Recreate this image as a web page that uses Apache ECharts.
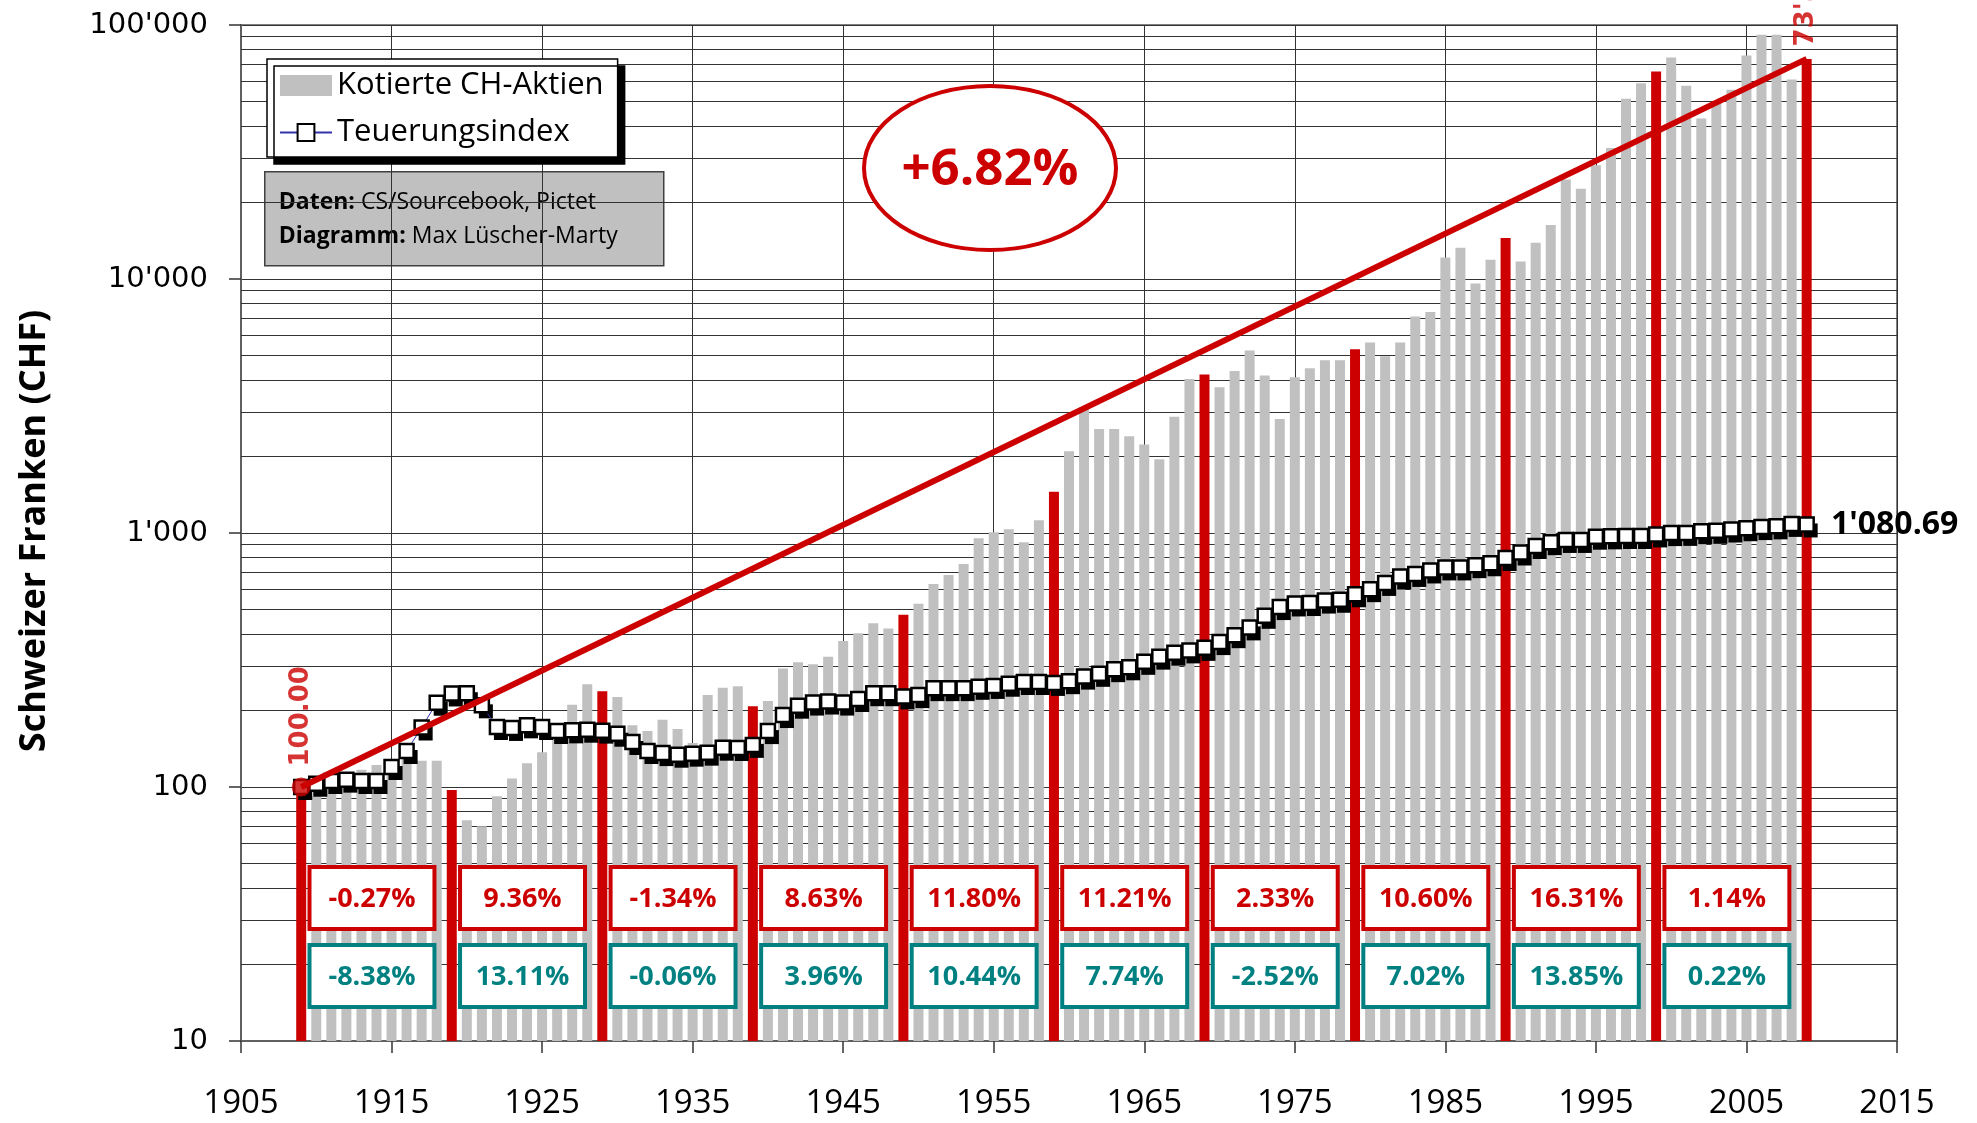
<!DOCTYPE html>
<html><head><meta charset="utf-8">
<script src="https://cdn.jsdelivr.net/npm/echarts@6/dist/echarts.min.js"></script>
<style>html,body{margin:0;padding:0;background:#fff}#c{width:1977px;height:1123px}</style>
</head><body><div id="c"></div>
<script>
const years = [1909,1910,1911,1912,1913,1914,1915,1916,1917,1918,
1919,1920,1921,1922,1923,1924,1925,1926,1927,1928,
1929,1930,1931,1932,1933,1934,1935,1936,1937,1938,
1939,1940,1941,1942,1943,1944,1945,1946,1947,1948,
1949,1950,1951,1952,1953,1954,1955,1956,1957,1958,
1959,1960,1961,1962,1963,1964,1965,1966,1967,1968,
1969,1970,1971,1972,1973,1974,1975,1976,1977,1978,
1979,1980,1981,1982,1983,1984,1985,1986,1987,1988,
1989,1990,1991,1992,1993,1994,1995,1996,1997,1998,
1999,2000,2001,2002,2003,2004,2005,2006,2007,2008,2009];
const stocks = [100,92,97,105,117,122,128,140,127,127,
97.3,74,70,92,108,124,137,160,211,254,
238.2,226,175,166,184,169,149,230,246,249,
208.1,218,293,310,304,326,376,403,441,421,
476.2,526,630,684,755,953,1006,1034,919,1123,
1453,2100,3117,2565,2565,2405,2233,1951,2870,4040,
4205,3745,4340,5230,4170,2810,4100,4450,4790,4790,
5295,5620,4970,5620,7120,7420,12150,13260,9600,11900,
14502,11710,13890,16320,24660,22680,28040,32800,51300,58980,
65660,74500,57600,42800,49600,55600,75900,91500,91500,61000,73540];
const inflation = [100,103,105.6,106.9,105.6,105.6,119.9,138.6,171.5,214.7,
233.5,234,209.7,172.3,170.8,174.9,172.3,166.1,167.1,168.1,
166.7,162.1,150.4,138.6,136,134,135.3,136.5,142.8,142.4,
146.5,166,192,209,215,217,215,222,234,234,
227.3,230,245,245,245,248,250,255,259,259,
256.9,261,272,279,291,296,311,326,338,345,
353,372,396,425,472,511,528,530,542,546,
573.8,601,636,674,690,712,732,732,747,760,
797.3,838,889,920,939,939,967,970,973,973,
987.1,999,1001,1017,1020,1032,1044,1055,1062,1086,1080.69];
const decadeYears = [1909,1919,1929,1939,1949,1959,1969,1979,1989,1999,2009];
const decadeStarts = [1909,1919,1929,1939,1949,1959,1969,1979,1989,1999];
const nominalReturns = [-0.27,9.36,-1.34,8.63,11.80,11.21,2.33,10.60,16.31,1.14];
const realReturns = [-8.38,13.11,-0.06,3.96,10.44,7.74,-2.52,7.02,13.85,0.22];
const trendRate = 6.82;
const xTicks = {min:1905, max:2015, interval:10};
const yRange = {min:10, max:100000};

const RED = '#cc0000', GRAY = '#c0c0c0', TEAL = '#008080';
function fmt(v, dec){
  let s = Number(v).toFixed(dec);
  let parts = s.split('.');
  let i = parts[0].replace(/\B(?=(\d{3})+(?!\d))/g, "'");
  return parts[1] ? i + '.' + parts[1] : i;
}
const minorGrid = [];
[10,100,1000,10000].forEach(d => { for (let k=2;k<=9;k++) minorGrid.push(k*d); });

const barData = years.map((y,i) => decadeYears.indexOf(y) >= 0
  ? {value:[y, stocks[i]], itemStyle:{color:RED}} : [y, stocks[i]]);
const inflData = years.map((y,i) => [y, inflation[i]]);
const lastIdx = years.length - 1;
inflData[lastIdx] = {value:[years[lastIdx], inflation[lastIdx]], label:{show:true}};
const boxData = decadeStarts.map((y,i) => [y, y, nominalReturns[i], realReturns[i]]);

const chart = echarts.init(document.getElementById('c'), null, {renderer:'canvas'});
chart.setOption({
  animation:false,
  backgroundColor:'#fff',
  grid:{left:241, right:80, top:25, bottom:82, show:true, borderColor:'#808080', borderWidth:2},
  xAxis:{type:'value', min:xTicks.min, max:xTicks.max, interval:xTicks.interval,
    axisLine:{show:true, lineStyle:{color:'#606060', width:2}},
    axisTick:{show:true, length:12, lineStyle:{color:'#333', width:1.5}},
    axisLabel:{margin:46, color:'#000', fontFamily:'Open Sans', fontSize:33, formatter:v=>String(v)},
    splitLine:{show:true, lineStyle:{color:'#333', width:1}}},
  yAxis:{type:'log', logBase:10, min:yRange.min, max:yRange.max,
    axisLine:{show:true, lineStyle:{color:'#606060', width:2}},
    axisTick:{show:true, length:12, lineStyle:{color:'#333', width:1.5}},
    axisLabel:{margin:33, color:'#000', fontFamily:'DejaVu Sans', fontSize:29, formatter:v=>fmt(Math.round(v),0)},
    splitLine:{show:true, lineStyle:{color:'#333', width:1}}},
  legend:{data:[{name:'Kotierte CH-Aktien', icon:'rect'},{name:'Teuerungsindex'}],
    orient:'vertical', left:267, top:59, padding:[11,14,9,12], itemGap:16, itemWidth:52, itemHeight:21,
    textStyle:{fontFamily:'Open Sans', fontSize:31, color:'#000'},
    backgroundColor:'#fff', borderColor:'#000', borderWidth:1.5,
    shadowColor:'#000', shadowOffsetX:7, shadowOffsetY:7, shadowBlur:0.01},
  graphic:[
    {type:'group', left:264, top:171, z:50, children:[
      {type:'rect', shape:{x:0,y:0,width:399,height:94}, style:{fill:GRAY, stroke:'#404040', lineWidth:1.5}},
      {type:'text', x:14, y:14, style:{text:'{b|Daten:} CS/Sourcebook, Pictet\n{b|Diagramm:} Max Lüscher-Marty',
        fill:'#000', font:'23px "Open Sans"', lineHeight:34,
        rich:{b:{fontWeight:'bold', fontFamily:'Open Sans', fontSize:23, fill:'#000', lineHeight:34}}}}
    ]},
    {type:'ellipse', z:50, shape:{cx:990, cy:168, rx:126, ry:82}, style:{fill:'#fff', stroke:RED, lineWidth:4}},
    {type:'text', z:51, x:990, y:170, style:{text:'+' + trendRate.toFixed(2) + '%', fill:RED,
      font:'bold 51px "Open Sans"', align:'center', verticalAlign:'middle', textAlign:'center', textVerticalAlign:'middle'}},
    {type:'text', z:51, x:35, y:531, rotation:Math.PI/2, style:{text:'Schweizer Franken (CHF)', fill:'#000',
      font:'bold 36px "Open Sans"', align:'center', verticalAlign:'middle', textAlign:'center', textVerticalAlign:'middle'}}
  ],
  series:[
    {type:'bar', name:'Kotierte CH-Aktien', data:barData, barWidth:10, z:2, clip:true,
      itemStyle:{color:GRAY}, silent:true,
      markLine:{silent:true, z:1, symbol:'none', label:{show:false},
        lineStyle:{color:'#333', width:1, type:'solid'},
        data:minorGrid.map(v=>({yAxis:v}))}},
    {type:'line', name:'shadow', data:inflation.map((v,i)=>[years[i], v]), symbol:'rect', symbolSize:14,
      symbolOffset:[4,6], showAllSymbol:true, itemStyle:{color:'#000'}, lineStyle:{width:0, opacity:0}, z:3, silent:true},
    {type:'line', name:'Teuerungsindex', data:inflData, symbol:'rect', symbolSize:14, showAllSymbol:true,
      itemStyle:{color:'#fff', borderColor:'#000', borderWidth:2.5},
      lineStyle:{color:'#3333aa', width:1}, z:4, silent:true,
      label:{show:false, position:'right', distance:16, formatter:p=>fmt(p.value[1],2),
        fontFamily:'Open Sans', fontWeight:'bold', fontSize:32, color:'#000'}},
    {type:'custom', name:'boxes', data:boxData, encode:{x:0, y:1}, z:6, silent:true,
      renderItem:function(params, api){
        const y0 = api.value(0);
        const xl = api.coord([y0 + 0.55, 100])[0];
        const xr = api.coord([y0 + 8.85, 100])[0];
        const bottom = params.coordSys.y + params.coordSys.height;
        const nom = api.value(2), real = api.value(3);
        const t1 = bottom - 174, t2 = bottom - 96, h = 62;
        return {type:'group', children:[
          {type:'rect', shape:{x:xl, y:t1, width:xr-xl, height:h}, style:{fill:'#fff', stroke:RED, lineWidth:4}},
          {type:'text', style:{x:(xl+xr)/2, y:t1+h/2+1, text:nom.toFixed(2)+'%', fill:RED,
            font:'bold 27px "Open Sans"', align:'center', verticalAlign:'middle', textAlign:'center', textVerticalAlign:'middle'}},
          {type:'rect', shape:{x:xl, y:t2, width:xr-xl, height:h}, style:{fill:'#fff', stroke:TEAL, lineWidth:4}},
          {type:'text', style:{x:(xl+xr)/2, y:t2+h/2+1, text:real.toFixed(2)+'%', fill:TEAL,
            font:'bold 27px "Open Sans"', align:'center', verticalAlign:'middle', textAlign:'center', textVerticalAlign:'middle'}}
        ]};
      }},
    {type:'scatter', name:'start', data:[[years[0], stocks[0]]], symbol:'circle', symbolSize:19, z:8, silent:true,
      itemStyle:{color:RED},
      label:{show:true, position:'top', distance:11, rotate:90, align:'left', verticalAlign:'middle',
        formatter:p=>fmt(p.value[1],2), color:RED, fontFamily:'DejaVu Sans', fontWeight:'bold', fontSize:26},
      markLine:{silent:true, z:7, symbol:['none','arrow'], symbolSize:[0,26], label:{show:false},
        lineStyle:{color:RED, width:6, type:'solid', opacity:1},
        emphasis:{disabled:true},
        data:[[{coord:[years[0], stocks[0]]},{coord:[years[lastIdx], stocks[lastIdx]]}]]}},
    {type:'scatter', name:'end', data:[[years[lastIdx], stocks[lastIdx]]], symbol:'circle', symbolSize:1, z:8, silent:true,
      itemStyle:{color:'rgba(0,0,0,0)'},
      label:{show:true, position:'top', distance:12, rotate:90, align:'left', verticalAlign:'middle',
        formatter:p=>fmt(p.value[1],2), color:RED, fontFamily:'DejaVu Sans', fontWeight:'bold', fontSize:26}}
  ]
});
</script></body></html>
